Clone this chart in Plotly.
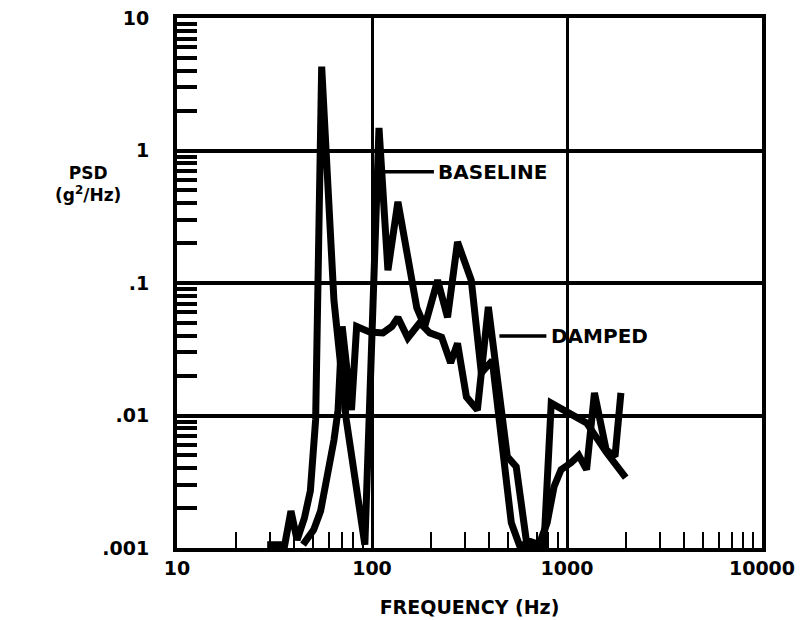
import numpy as np
import plotly.graph_objects as go

# ---- data ----
baseline_f = [29.0, 35.7, 38.4, 41.3, 45.0, 48.3, 51.4, 55.2, 63.8, 73.8, 91.9,
              108.6, 120.7, 135.8, 169.7, 186.3, 217, 244, 274.5, 323, 363.6, 414,
              518, 569, 762, 830, 1260, 1588, 2001]
baseline_psd = [0.00106, 0.00106, 0.0019, 0.00115, 0.00168, 0.0027, 0.0093, 4.3, 0.074, 0.0093, 0.00106,
                1.48, 0.125, 0.41, 0.065, 0.047, 0.105, 0.055, 0.204, 0.105, 0.021, 0.026,
                0.00155, 0.00106, 0.00106, 0.0124, 0.0088, 0.0053, 0.0034]

damped_f = [44.3, 50.2, 54.5, 58.7, 63.8, 67.0, 70.3, 78.5, 83.4, 97.5, 113.8, 126.5,
            135.8, 152.7, 175.8, 197.7, 227.6, 253, 274.5, 305, 347, 395, 424, 494,
            549, 618, 719, 791, 858, 932, 1047, 1149, 1260, 1383, 1588, 1763, 1890]
damped_psd = [0.00106, 0.00137, 0.0019, 0.0033, 0.0065, 0.011, 0.047, 0.011, 0.047, 0.0426, 0.042, 0.047,
              0.055, 0.0385, 0.05, 0.042, 0.039, 0.025, 0.035, 0.0138, 0.011, 0.066, 0.031, 0.0049,
              0.0041, 0.00115, 0.00106, 0.00155, 0.0029, 0.0039, 0.0044, 0.005, 0.0039, 0.0148, 0.0055, 0.0049, 0.0148]

x_tick_vals = [10, 100, 1000, 10000]
x_tick_text = ["10", "100", "1000", "10000"]
y_tick_vals = [0.001, 0.01, 0.1, 1, 10]
y_tick_text = [".001", ".01", ".1", "1", "10"]

series_labels = ["BASELINE", "DAMPED"]
label_tip_f = [116.5, 450]
label_tip_psd = [0.69, 0.0398]

minor_x = [k * 10 ** n for n in range(1, 4) for k in range(2, 10)]
minor_y = [k * 10.0 ** n for n in range(-3, 1) for k in range(2, 10)]

FONT = "DejaVu Sans, Liberation Sans, Arial, sans-serif"

fig = go.Figure()
for f, p in [(baseline_f, baseline_psd), (damped_f, damped_psd)]:
    fig.add_trace(go.Scatter(x=f, y=p, mode="lines",
                             line=dict(color="black", width=7),
                             showlegend=False, hoverinfo="skip"))

fig.update_layout(
    width=800, height=620,
    margin=dict(l=177, r=38, t=18, b=72),
    paper_bgcolor="white", plot_bgcolor="white",
    font=dict(family=FONT, color="black", size=19, weight="bold"),
    xaxis=dict(
        type="log", range=[1, 4], automargin=False,
        tickmode="array", tickvals=x_tick_vals, ticktext=x_tick_text,
        ticks="inside", ticklen=0, tickwidth=2, tickcolor="black",
        tickfont=dict(family=FONT, size=19, color="black", weight="bold"),
        showgrid=True, gridcolor="black", gridwidth=2.5,
        showline=True, linecolor="black", linewidth=4, mirror=True,
        zeroline=False,
        minor=dict(tickmode="array", tickvals=minor_x, ticks="inside",
                   ticklen=16, tickwidth=2, tickcolor="black", showgrid=False),
        title=dict(text="FREQUENCY (Hz)", standoff=24,
                   font=dict(family=FONT, size=19, color="black", weight="bold")),
    ),
    yaxis=dict(
        type="log", range=[-3, 1], automargin=False,
        tickmode="array", tickvals=y_tick_vals, ticktext=y_tick_text,
        ticks="inside", ticklen=0, tickwidth=3, tickcolor="black",
        ticklabelstandoff=20,
        tickfont=dict(family=FONT, size=19, color="black", weight="bold"),
        showgrid=True, gridcolor="black", gridwidth=4,
        showline=True, linecolor="black", linewidth=4, mirror=True,
        zeroline=False,
        minor=dict(tickmode="array", tickvals=minor_y, ticks="inside",
                   ticklen=20, tickwidth=3.5, tickcolor="black", showgrid=False),
    ),
)

# series labels with leader lines
offsets = [108, 100]
for lab, tf, tp, off in zip(series_labels, label_tip_f, label_tip_psd, offsets):
    fig.add_annotation(x=np.log10(tf), y=np.log10(tp), xref="x", yref="y",
                       text=lab, showarrow=True, arrowhead=0, arrowwidth=3.5,
                       arrowcolor="black", ax=off, ay=0, borderpad=4,
                       font=dict(family=FONT, size=20, color="black", weight="bold"))

# y axis title
fig.add_annotation(x=-0.152, y=0.687, xref="paper", yref="paper",
                   xanchor="center", yanchor="middle",
                   text="PSD<br>(g<sup>2</sup>/Hz)", showarrow=False,
                   align="center",
                   font=dict(family=FONT, size=17, color="black", weight="bold"))

fig.write_html("out.html",
               config={"displayModeBar": False},
               post_script="document.body.style.margin='0';document.body.style.overflow='hidden';")
